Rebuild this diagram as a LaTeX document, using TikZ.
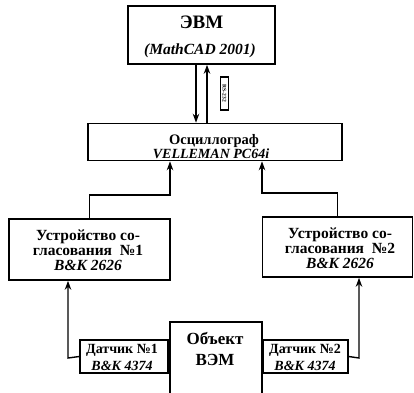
\documentclass[tikz,border=0pt]{standalone}
\usepackage{fontspec}
\setmainfont{Liberation Serif}
\usetikzlibrary{arrows.meta}
\begin{document}
\begin{tikzpicture}[x=1pt,y=-1pt,
  box/.style={draw, line width=1.6pt, inner sep=0pt},
  txt/.style={inner sep=0pt, font=\bfseries},
  conn/.style={line width=1.4pt},
  arr/.style={conn, -{Stealth[length=9pt,width=6.5pt]}}]
\useasboundingbox (0,0) rectangle (414,392);
% boxes
\node[box, minimum width=147pt, minimum height=58pt] (evm) at (201.5,35) {};
\node[box, minimum width=254pt, minimum height=37pt] (osc) at (215,142) {};
\node[box, minimum width=161pt, minimum height=61pt] (dev1) at (89.5,249.5) {};
\node[box, minimum width=150pt, minimum height=60pt] (dev2) at (337.5,247) {};
\node[box, minimum width=92pt, minimum height=76pt] (obj) at (216,360) {};
\node[box, minimum width=88pt, minimum height=33pt] (s1) at (124,356.5) {};
\node[box, minimum width=85pt, minimum height=33pt] (s2) at (305.5,356.5) {};
\node[draw, line width=1.1pt, minimum width=7.5pt, minimum height=33pt, inner sep=0pt] (rs) at (224.5,93.5) {};
\node[inner sep=0pt, rotate=-90, font=\bfseries\fontsize{5.5}{5.5}\selectfont] (rst) at (rs.center) {RS-232};
% texts
\node[txt, font=\bfseries\fontsize{19}{19}\selectfont] (evmt) at (201.5,22) {ЭВМ};
\node[txt, font=\bfseries\itshape\fontsize{15.5}{15.5}\selectfont] (evms) at (200,51) {(MathCAD 2001)};
\node[txt, font=\bfseries\fontsize{14.5}{14.5}\selectfont] (osct) at (214,141) {Осциллограф};
\node[txt, font=\bfseries\itshape\fontsize{14}{14}\selectfont] (oscs) at (211,154) {VELLEMAN PC64i};
\node[txt, align=center, font=\bfseries\fontsize{15.5}{15}\selectfont] (dev1t) at (88,250) {Устройство со-\\гласования \ №1\\\textit{B\&K 2626}};
\node[txt, align=center, font=\bfseries\fontsize{15.5}{15}\selectfont] (dev2t) at (340,248) {Устройство со-\\гласования \ №2\\\textit{B\&K 2626}};
\node[txt, align=center, font=\bfseries\fontsize{14}{17}\selectfont] (s1t) at (122,357) {Датчик №1\\\textit{B\&K 4374}};
\node[txt, align=center, font=\bfseries\fontsize{14}{17}\selectfont] (s2t) at (305,357) {Датчик №2\\\textit{B\&K 4374}};
\node[txt, align=center, font=\bfseries\fontsize{17}{21}\selectfont] (objt) at (215,349) {Объект\\ВЭМ};
% connectors
\draw[arr] (evm.south -| 196,0) -- (osc.north -| 196,0);
\draw[arr] (osc.north -| 207,0) -- (evm.south -| 207,0);
\draw[arr] (dev1.north) -- (dev1.north |- 0,195) -- (170,195) -- (osc.south -| 170,0);
\draw[arr] (dev2.north) -- (dev2.north |- 0,193) -- (262,193) -- (osc.south -| 262,0);
\draw[arr] (s1.west) -- (68,358) -- (dev1.south -| 68,0);
\draw[arr] (s2.east) -- (359,358) -- (dev2.south -| 359,0);
\end{tikzpicture}
\end{document}
